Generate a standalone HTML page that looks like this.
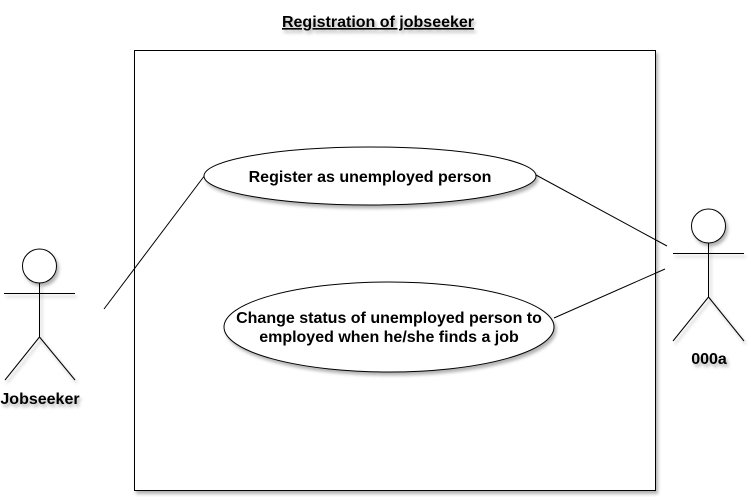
<!DOCTYPE html>
<html><head><meta charset="utf-8"><style>
body{margin:0;background:#fff;width:751px;height:497px;overflow:hidden}
svg text{font-family:"Liberation Sans",Arial,sans-serif;font-weight:bold;fill:#000}
</style></head><body>
<svg width="751" height="497">
<defs><filter id="sh" x="-10%" y="-10%" width="130%" height="150%"><feDropShadow dx="2" dy="3" stdDeviation="1.5" flood-color="#000" flood-opacity="0.3"/></filter></defs>
<text x="378" y="27" text-anchor="middle" font-size="16" text-decoration="underline" filter="url(#sh)">Registration of jobseeker</text>
<rect x="134.5" y="50.5" width="521" height="440" fill="#fff" stroke="#000" stroke-width="1" filter="url(#sh)"/>
<g stroke="#000" stroke-width="1" fill="none">
<line x1="104" y1="309" x2="205" y2="175"/>
<line x1="536" y1="175" x2="667" y2="246"/>
<line x1="554" y1="318" x2="665" y2="269"/>
</g>
<g>
<ellipse cx="370" cy="176" rx="166" ry="29" fill="#fff" stroke="#000" filter="url(#sh)"/>
<text x="370" y="182" text-anchor="middle" font-size="16">Register as unemployed person</text>
</g>
<g>
<ellipse cx="389" cy="327" rx="165" ry="45" fill="#fff" stroke="#000" filter="url(#sh)"/>
<text x="389" y="323" text-anchor="middle" font-size="16">Change status of unemployed person to</text>
<text x="389" y="342" text-anchor="middle" font-size="16">employed when he/she finds a job</text>
</g>
<g stroke="#000" fill="none" filter="url(#sh)">
<circle cx="39.5" cy="266" r="17" fill="#fff"/>
<line x1="4" y1="293.5" x2="75" y2="293.5"/>
<line x1="39.5" y1="283" x2="39.5" y2="337"/>
<line x1="39.5" y1="337" x2="5" y2="380"/>
<line x1="39.5" y1="337" x2="75" y2="380"/>
</g>
<text x="40" y="404" text-anchor="middle" font-size="16" filter="url(#sh)">Jobseeker</text>
<g stroke="#000" fill="none" filter="url(#sh)">
<circle cx="708.5" cy="226" r="17" fill="#fff"/>
<line x1="673" y1="253.5" x2="744" y2="253.5"/>
<line x1="708.5" y1="243" x2="708.5" y2="297"/>
<line x1="708.5" y1="297" x2="673" y2="341"/>
<line x1="708.5" y1="297" x2="744" y2="341"/>
</g>
<text x="709" y="364" text-anchor="middle" font-size="16" filter="url(#sh)">000a</text>
</svg>
</body></html>
